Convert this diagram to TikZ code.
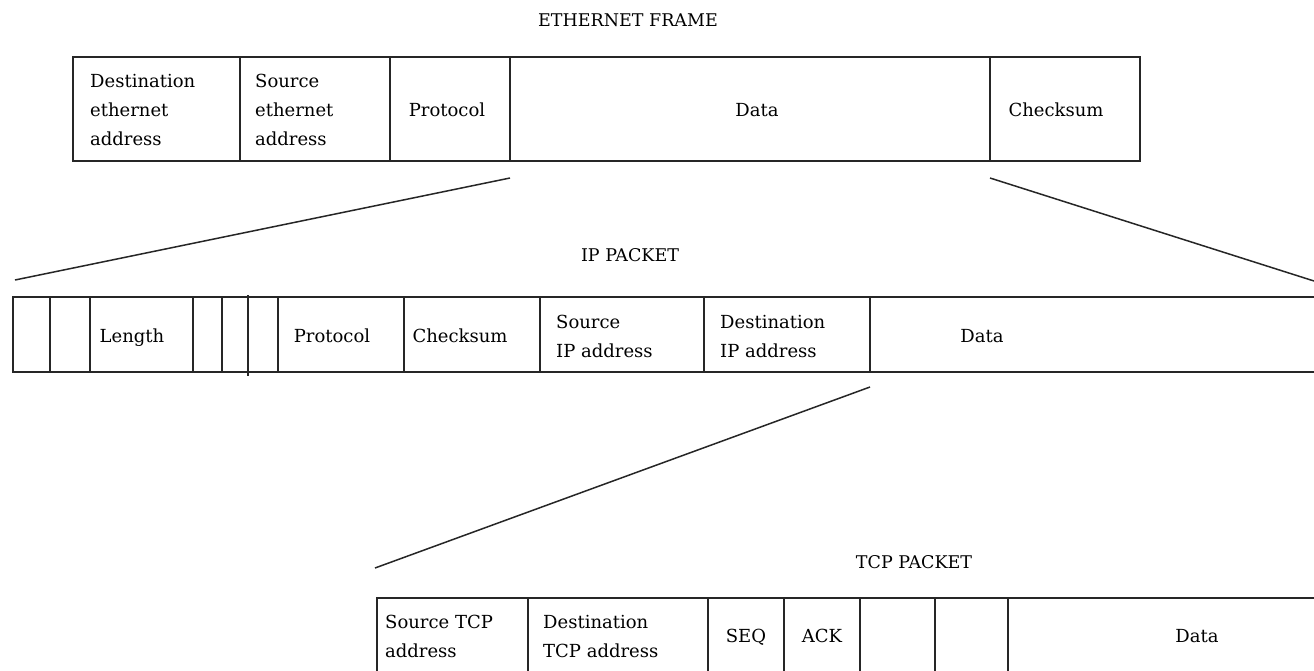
\documentclass[tikz,border=0pt]{standalone}
\usepackage{fontspec}
\setmainfont{DejaVu Serif}
\begin{document}
\begin{tikzpicture}[x=1pt,y=-1pt,
  frame/.style={line width=1.4pt,draw=black!85},
  lbl/.style={font=\fontsize{18}{29}\selectfont,inner sep=0pt,align=left},
  one/.style={lbl,text height=13pt,text depth=0pt},
  title/.style={font=\fontsize{17.5}{20}\selectfont,inner sep=0pt},
  zoomline/.style={line width=1.5pt,draw=black!85}]
\useasboundingbox (0,0) rectangle (1314,670);
\begin{scope}
\clip (0,0) rectangle (1314,670);
% ---------- Ethernet frame ----------
\node[title] (tEth) at (628,20) {ETHERNET FRAME};
\draw[frame] (73,57) rectangle (1140,161);
\foreach \x in {240,390,510,990} \draw[frame] (\x,57) -- (\x,161);
\node[lbl,anchor=west] (eDst) at (90,110) {Destination\\ethernet\\address};
\node[lbl,anchor=west] (eSrc) at (255,110) {Source\\ethernet\\address};
\node[one] (eProto) at (447,110) {Protocol};
\node[one] (eData) at (757,110) {Data};
\node[one] (eChk) at (1056,110) {Checksum};
% ---------- connectors Ethernet -> IP ----------
\coordinate (eDataL) at (510,178);
\coordinate (eDataR) at (990,178);
\coordinate (ipL) at (15,280);
\coordinate (ipR) at (1314,281);
\draw[zoomline] (eDataL) -- (ipL);
\draw[zoomline] (eDataR) -- (ipR);
% ---------- IP packet ----------
\node[title] (tIP) at (630,255) {IP PACKET};
\draw[frame] (1320,297) -- (13,297) -- (13,372) -- (1320,372);
\foreach \x in {50,90,193,222,278,404,540,704,870} \draw[frame] (\x,297) -- (\x,372);
\draw[frame] (248,295) -- (248,376);
\node[one] (iLen) at (132,336) {Length};
\node[one] (iProto) at (332,336) {Protocol};
\node[one] (iChk) at (460,336) {Checksum};
\node[lbl,anchor=west] (iSrc) at (556,336) {Source\\IP address};
\node[lbl,anchor=west] (iDst) at (720,336) {Destination\\IP address};
\node[one] (iData) at (982,336) {Data};
% ---------- connector IP -> TCP ----------
\coordinate (iDataL) at (870,387);
\coordinate (tcpL) at (375,568);
\draw[zoomline] (iDataL) -- (tcpL);
% ---------- TCP packet ----------
\node[title] (tTCP) at (914,562) {TCP PACKET};
\draw[frame] (377,690) -- (377,598) -- (1320,598);
\foreach \x in {528,708,784,860,935,1008} \draw[frame] (\x,598) -- (\x,690);
\node[lbl,anchor=west] (tSrc) at (385,636) {Source TCP\\address};
\node[lbl,anchor=west] (tDst) at (543,636) {Destination\\TCP address};
\node[one] (tSeq) at (746,636) {SEQ};
\node[one] (tAck) at (822,636) {ACK};
\node[one] (tData) at (1197,636) {Data};
\end{scope}
\end{tikzpicture}
\end{document}
